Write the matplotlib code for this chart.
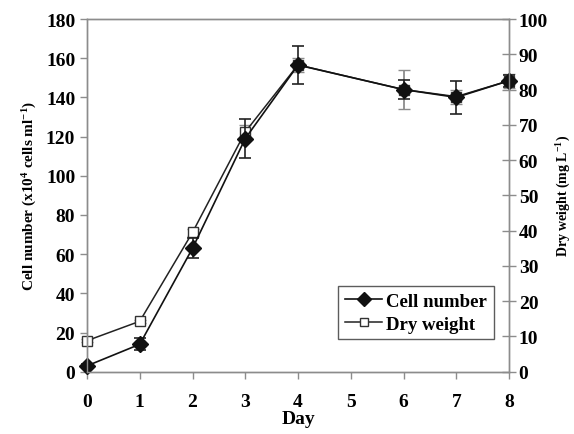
import numpy as np
import matplotlib.pyplot as plt
from matplotlib.lines import Line2D

plt.rcParams['font.family'] = ['Liberation Serif', 'DejaVu Serif']
plt.rcParams['font.weight'] = 'bold'
plt.rcParams['mathtext.fontset'] = 'custom'
plt.rcParams['mathtext.bf'] = 'Liberation Serif:bold'
plt.rcParams['mathtext.rm'] = 'Liberation Serif:bold'
plt.rcParams['mathtext.default'] = 'bf'

# data
days = [0, 1, 2, 3, 4, 6, 7, 8]
cell_number = [3, 14, 63, 119, 156.5, 144, 140, 148.5]
cell_err = [1, 3, 5, 10, 9.5, 5, 8.5, 3]
dry_weight = [8.8, 14.3, 39.5, 68, 87, 80, 78, 82.5]
dry_err = [0.5, 0.5, 1, 2, 2, 5.5, 2, 2]

fig = plt.figure(figsize=(5.74, 4.35), dpi=100)
ax = fig.add_axes([0.1516, 0.1432, 0.7352, 0.8108])
ax2 = ax.twinx()

grey = '#8c8c8c'

ax2.errorbar(days, dry_weight, yerr=dry_err, color='#222222', lw=1.1,
             marker='s', ms=6.5, mfc='white', mec='#333333', mew=1.0,
             ecolor=grey, elinewidth=1.3, capsize=4, capthick=1.3,
             clip_on=False)
ax.errorbar(days, cell_number, yerr=cell_err, color='#111111', lw=1.2,
            marker='D', ms=8.5, mfc='#111111', mec='#111111',
            ecolor='#222222', elinewidth=1.2, capsize=4, capthick=1.2,
            clip_on=False)
ax.set_zorder(ax2.get_zorder() + 1)
ax.patch.set_visible(False)

ax.set_xlim(0, 8)
ax.set_ylim(0, 180)
ax2.set_ylim(0, 100)
ax.set_xticks(range(0, 9))
ax.set_yticks(np.arange(0, 181, 20))
ax2.set_yticks(np.arange(0, 101, 10))

for a in (ax, ax2):
    for s in a.spines.values():
        s.set_color(grey)
        s.set_linewidth(1.0)

ax.tick_params(axis='both', direction='out', length=5, color=grey,
               labelsize=14, width=1)
ax.tick_params(axis='x', pad=10)
ax2.tick_params(axis='y', direction='inout', length=10, color=grey,
                labelsize=14, width=1, pad=2)

ax.set_xlabel('Day', fontsize=14, fontweight='bold', labelpad=0)
ax.set_ylabel(r'Cell number (x10$^{4}$ cells ml$^{-1}$)', fontsize=11,
              fontweight='bold', labelpad=5)
ax2.set_ylabel(r'Dry weight (mg L$^{-1}$)', fontsize=10,
               fontweight='bold', rotation=90, labelpad=5)

h1 = Line2D([], [], color='#111111', lw=1.2, marker='D', ms=7,
            mfc='#111111', mec='#111111')
h2 = Line2D([], [], color='#222222', lw=1.1, marker='s', ms=6,
            mfc='white', mec='#333333')
leg = ax.legend([h1, h2], ['Cell number', 'Dry weight'],
                bbox_to_anchor=(0.5906, 0.209, 0.268, 0.14),
                bbox_transform=fig.transFigure, loc='center',
                fontsize=13.5, frameon=True, fancybox=False,
                handlelength=2.0, handletextpad=0.2, borderpad=0.35,
                labelspacing=0.3, borderaxespad=0)
leg.get_frame().set_edgecolor('#333333')
leg.get_frame().set_linewidth(1.0)

fig.savefig('out.png', dpi=100)
